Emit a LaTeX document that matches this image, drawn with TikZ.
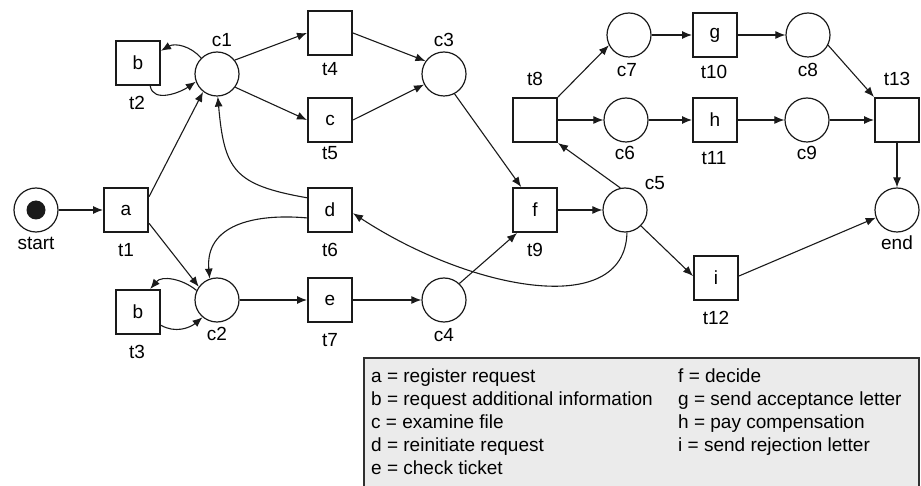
\documentclass[tikz,border=0pt]{standalone}
\usepackage{fontspec}
\setmainfont{Liberation Sans}
\usetikzlibrary{arrows.meta,calc}
\definecolor{legendfill}{HTML}{EBEBEB}
\definecolor{legendline}{HTML}{303030}
\definecolor{ink}{HTML}{1A1A1A}
\begin{document}
\begin{tikzpicture}[x=1pt,y=1pt,
  trans/.style={draw=ink, line width=2pt, minimum size=44pt, inner sep=0pt, font=\fontsize{19}{23}\selectfont},
  place/.style={draw=ink, circle, line width=1.2pt, minimum size=44pt, inner sep=0pt},
  token/.style={fill=ink, circle, minimum size=19pt, inner sep=0pt},
  lbl/.style={inner sep=0pt, font=\fontsize{19}{23}\selectfont},
  legtxt/.style={inner sep=0pt, anchor=base west, font=\fontsize{19}{23}\selectfont},
  arc/.style={draw=ink, line width=1.1pt, -{Latex[length=10pt,width=8pt]}},
]
\useasboundingbox (0,-486) rectangle (921,0);

% legend
\fill[legendfill] (364,-486) rectangle (919,-358);
\draw[line width=1.3pt, legendline] (364,-486) -- (364,-358) -- (919,-358) -- (919,-486);
\node[legtxt] (la) at (371,-382) {a = register request};
\node[legtxt] (lb) at (371,-405) {b = request additional information};
\node[legtxt] (lc) at (371,-428) {c = examine file};
\node[legtxt] (ld) at (371,-451) {d = reinitiate request};
\node[legtxt] (le) at (371,-474) {e = check ticket};
\node[legtxt] (lf) at (678,-382) {f = decide};
\node[legtxt] (lg) at (678,-405) {g = send acceptance letter};
\node[legtxt] (lh) at (678,-428) {h = pay compensation};
\node[legtxt] (li) at (678,-451) {i = send rejection letter};

% places
\node[place] (start) at (36,-210) {};
\node[token] (tok) at (36,-210) {};
\node[place] (c1) at (217,-74) {};
\node[place] (c2) at (217,-300) {};
\node[place] (c3) at (444,-74) {};
\node[place] (c4) at (444,-300) {};
\node[place] (c5) at (625,-210) {};
\node[place] (c6) at (626,-120) {};
\node[place] (c7) at (629,-35) {};
\node[place] (c8) at (808,-35) {};
\node[place] (c9) at (807,-120) {};
\node[place] (end) at (897,-210) {};

% transitions
\node[trans] (t1) at (126,-210) {a};
\node[trans] (t2) at (138,-63) {b};
\node[trans] (t3) at (138,-312) {b};
\node[trans] (t4) at (330,-33) {};
\node[trans] (t5) at (330,-120) {c};
\node[trans] (t6) at (330,-210) {d};
\node[trans] (t7) at (330,-300) {e};
\node[trans] (t8) at (535,-120) {};
\node[trans] (t9) at (535,-210) {f};
\node[trans] (t10) at (715,-35) {g};
\node[trans] (t11) at (715,-120) {h};
\node[trans] (t12) at (716,-278) {i};
\node[trans] (t13) at (897,-120) {};

% labels
\node[lbl] (Lstart) at (36,-243) {start};
\node[lbl] (Lt1) at (126,-250) {t1};
\node[lbl] (Lt2) at (137,-103) {t2};
\node[lbl] (Lt3) at (137,-352) {t3};
\node[lbl] (Lt4) at (330,-69) {t4};
\node[lbl] (Lt5) at (330,-153) {t5};
\node[lbl] (Lt6) at (330,-250) {t6};
\node[lbl] (Lt7) at (330,-340) {t7};
\node[lbl] (Lt8) at (535,-79) {t8};
\node[lbl] (Lt9) at (535,-250) {t9};
\node[lbl] (Lt10) at (714,-72) {t10};
\node[lbl] (Lt11) at (714,-158) {t11};
\node[lbl] (Lt12) at (716,-318) {t12};
\node[lbl] (Lt13) at (897,-79) {t13};
\node[lbl] (Lc1) at (222,-40) {c1};
\node[lbl] (Lc2) at (217,-334) {c2};
\node[lbl] (Lc3) at (444,-40) {c3};
\node[lbl] (Lc4) at (444,-335) {c4};
\node[lbl] (Lc5) at (655,-183) {c5};
\node[lbl] (Lc6) at (625,-153) {c6};
\node[lbl] (Lc7) at (627,-70) {c7};
\node[lbl] (Lc8) at (808,-70) {c8};
\node[lbl] (Lc9) at (807,-153) {c9};
\node[lbl] (Lend) at (897,-243) {end};

% arcs
\draw[arc] (start) -- (t1);
\draw[arc] (t1.30) -- (c1.-128);
\draw[arc] (t1.-30) -- (c2.144);
\draw[arc] (c1.135) to[out=130,in=30] (t2.28);
\draw[arc] (t2.-62) to[out=-80,in=215] (c1.200);
\draw[arc] (c2.155) to[out=140,in=50] (t3.62);
\draw[arc] (t3.-30) to[out=-30,in=-140] (c2.-130);
\draw[arc] (c1.38) -- (t4.west);
\draw[arc] (c1.-36) -- (t5.west);
\draw[arc] (t4.east) -- (c3.145);
\draw[arc] (t5.east) -- (c3.-152);
\draw[arc] (c3.-62) -- (t9.121);
\draw[arc] (t6.152) to[out=170,in=-85,looseness=1.4] (c1.-88);
\draw[arc] (t6.199) to[out=175,in=95,looseness=1.2] (c2.109);
\draw[arc] (c2) -- (t7);
\draw[arc] (t7) -- (c4);
\draw[arc] (c4.47) -- (t9.-128);
\draw[arc] (t9) -- (c5);
\draw[arc] (c5.102) -- (t8.south east);
\draw[arc] (t8.north east) -- (c7.-153);
\draw[arc] (t8) -- (c6);
\draw[arc] (c7) -- (t10);
\draw[arc] (t10) -- (c8);
\draw[arc] (c6) -- (t11);
\draw[arc] (t11) -- (c9);
\draw[arc] (c8.-27) -- (t13.north west);
\draw[arc] (c9) -- (t13);
\draw[arc] (t13) -- (end);
\draw[arc] (c5.-45) -- (t12.175);
\draw[arc] (t12.5) -- (end.-160);
\draw[arc] (c5.-85) .. controls (625,-320) and (470,-290) .. (t6.-8);
\end{tikzpicture}
\end{document}
